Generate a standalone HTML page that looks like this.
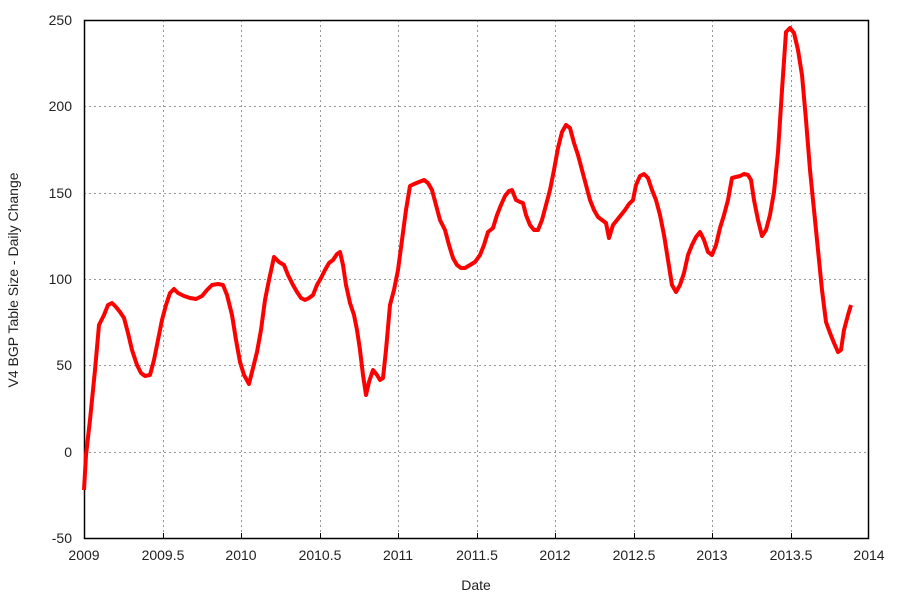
<!DOCTYPE html><html><head><style>body{margin:0;background:#fff}text{font-family:"Liberation Sans",sans-serif;font-size:14px;fill:#222}</style></head><body>
<svg width="900" height="600" viewBox="0 0 900 600">
<g stroke="#999" stroke-dasharray="2,3" stroke-width="1">
<line x1="84" x2="869" y1="20.5" y2="20.5"/><line x1="84" x2="869" y1="106.5" y2="106.5"/><line x1="84" x2="869" y1="193.5" y2="193.5"/><line x1="84" x2="869" y1="279.5" y2="279.5"/><line x1="84" x2="869" y1="365.5" y2="365.5"/><line x1="84" x2="869" y1="452.5" y2="452.5"/>
<line y1="20" y2="539" x1="163.5" x2="163.5"/><line y1="20" y2="539" x1="241.5" x2="241.5"/><line y1="20" y2="539" x1="320.5" x2="320.5"/><line y1="20" y2="539" x1="398.5" x2="398.5"/><line y1="20" y2="539" x1="477.5" x2="477.5"/><line y1="20" y2="539" x1="555.5" x2="555.5"/><line y1="20" y2="539" x1="634.5" x2="634.5"/><line y1="20" y2="539" x1="712.5" x2="712.5"/><line y1="20" y2="539" x1="791.5" x2="791.5"/>
</g>
<rect x="84.5" y="20.5" width="784" height="518" fill="none" stroke="#000" stroke-width="1.5"/>
<g stroke="#000" stroke-width="1">
<line x1="163.5" x2="163.5" y1="539" y2="533"/><line x1="241.5" x2="241.5" y1="539" y2="533"/><line x1="320.5" x2="320.5" y1="539" y2="533"/><line x1="398.5" x2="398.5" y1="539" y2="533"/><line x1="477.5" x2="477.5" y1="539" y2="533"/><line x1="555.5" x2="555.5" y1="539" y2="533"/><line x1="634.5" x2="634.5" y1="539" y2="533"/><line x1="712.5" x2="712.5" y1="539" y2="533"/><line x1="791.5" x2="791.5" y1="539" y2="533"/>
</g>
<g text-anchor="end">
<text x="72" y="25">250</text><text x="72" y="111">200</text><text x="72" y="198">150</text><text x="72" y="284">100</text><text x="72" y="370">50</text><text x="72" y="457">0</text><text x="72" y="543">-50</text>
</g>
<g text-anchor="middle">
<text x="84" y="560">2009</text><text x="163" y="560">2009.5</text><text x="241" y="560">2010</text><text x="320" y="560">2010.5</text><text x="398" y="560">2011</text><text x="477" y="560">2011.5</text><text x="555" y="560">2012</text><text x="634" y="560">2012.5</text><text x="712" y="560">2013</text><text x="791" y="560">2013.5</text><text x="869" y="560">2014</text>
<text x="476" y="590">Date</text>
<text transform="translate(18,280) rotate(-90)">V4 BGP Table Size - Daily Change</text>
</g>
<polyline fill="none" stroke="#f00" stroke-width="4" stroke-linejoin="round" points="84,490 86,455 90,420 95,370 99,325 104,315 108,305 112,303 116,307 120,312 124,318 128,333 132,350 137,365 141,373 145,376 150,375 154,360 158,340 162,320 166,305 170,293 174,289 178,293 184,296 190,298 196,299 202,296 207,290 212,285 218,284 223,285 227,295 232,315 236,340 240,362 244,375 249,384 253,368 257,352 261,330 265,300 269,280 274,257 279,262 284,265 288,275 293,285 297,292 301,298 305,300 309,298 313,295 317,285 321,278 325,270 329,263 333,260 337,254 340,252 343,265 346,285 350,303 354,315 357,330 360,350 363,375 366,395 369,382 373,370 377,375 380,380 383,378 386,350 390,305 394,290 398,270 402,240 406,210 410,186 414,184 419,182 424,180 428,183 432,190 436,205 440,220 445,230 449,245 453,258 457,265 461,268 465,268 470,265 475,262 480,255 484,245 488,232 493,228 497,215 501,205 505,196 509,191 512,190 516,200 520,202 523,203 526,215 530,225 534,230 538,230 542,220 546,205 550,190 554,170 558,148 562,132 566,125 570,128 574,143 578,155 582,170 586,185 590,200 594,210 598,217 602,220 606,223 609,238 613,225 617,220 621,215 625,210 629,204 633,200 636,185 640,176 644,174 648,178 652,190 656,200 660,215 664,235 668,260 672,285 676,292 680,285 684,273 688,255 692,245 696,237 700,232 704,240 708,252 712,255 716,245 720,228 724,215 728,200 732,178 736,177 740,176 744,174 748,175 751,180 754,200 758,220 762,236 766,230 770,215 774,192 778,152 782,90 786,32 790,28 794,33 798,50 802,75 806,120 810,170 814,210 818,250 822,290 826,322 830,333 834,343 838,352 841,350 844,330 848,315 851,305"/>
</svg></body></html>
